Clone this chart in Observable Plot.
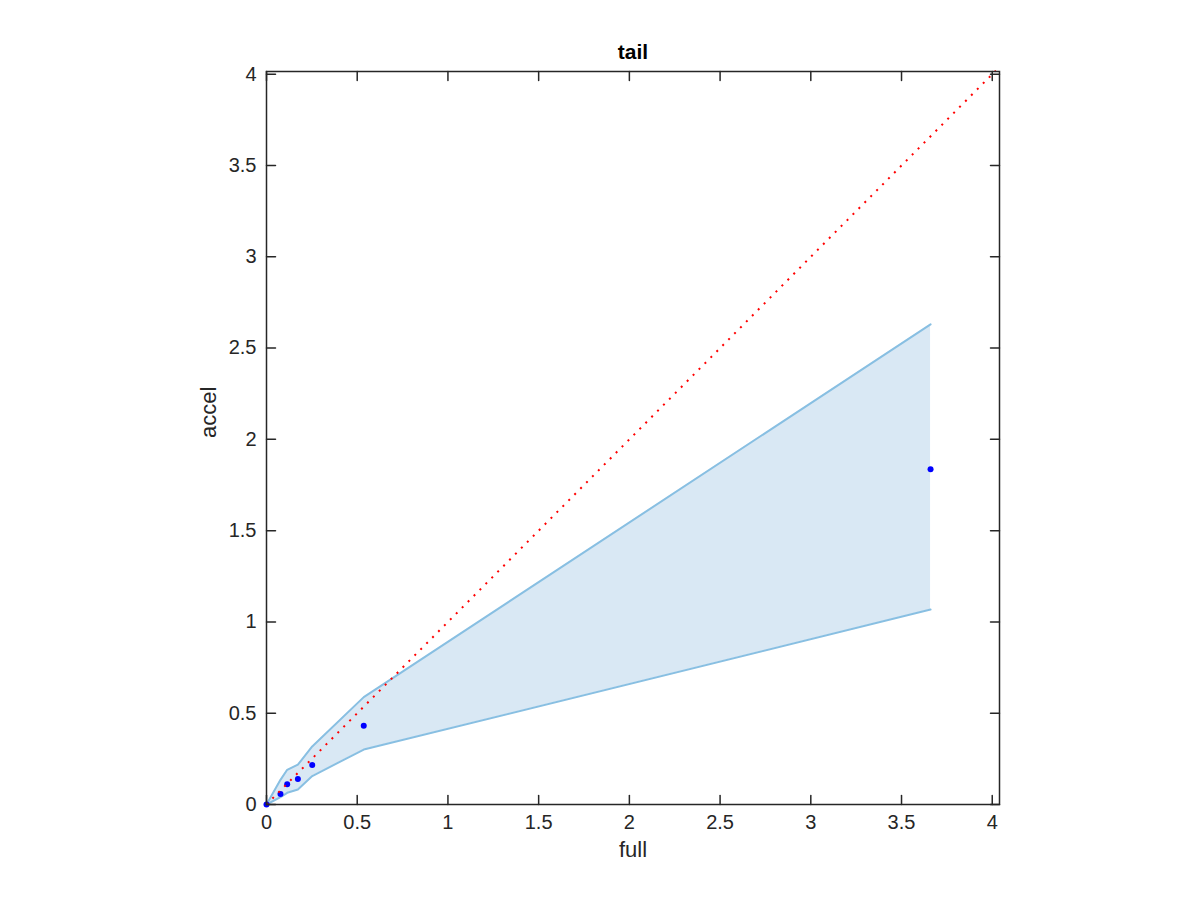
<!DOCTYPE html>
<html><head><meta charset="utf-8">
<script src="https://cdn.jsdelivr.net/npm/d3@7"></script>
<script src="https://cdn.jsdelivr.net/npm/@observablehq/plot@0.6"></script>
<style>body{margin:0;background:#fff;}</style>
</head><body><div id="chart"></div>
<script>
// ---- data ----
const fullVals  = [0, 0.077, 0.114, 0.173, 0.252, 0.536, 3.66];
const accelVals = [0, 0.058, 0.111, 0.140, 0.216, 0.431, 1.836];
const bandX     = [0, 0.077, 0.114, 0.173, 0.252, 0.536, 3.66];
const bandUpper = [0, 0.135, 0.19, 0.218, 0.318, 0.588, 2.63];
const bandLower = [0, 0.04, 0.064, 0.082, 0.156, 0.301, 1.068];
const refLine   = [0, 4.02];
const xTicks = [0, 0.5, 1, 1.5, 2, 2.5, 3, 3.5, 4];
const yTicks = [0, 0.5, 1, 1.5, 2, 2.5, 3, 3.5, 4];
const xDomain = [0, 4.04];
const yDomain = [0, 4.015];
const titleText = "tail";
const xLabel = "full";
const yLabel = "accel";

// ---- tables built from the arrays ----
const points = fullVals.map((x, i) => ({x, y: accelVals[i]}));
const band = bandX.map((x, i) => ({x, lo: bandLower[i], hi: bandUpper[i]}));
const ref = refLine.map(v => ({x: v, y: v}));

const axisColor = "#262626";
const tickShape = {draw(ctx, l) { ctx.moveTo(0, 0); ctx.lineTo(0, -l); }};
const tickOpts = {length: 9, anchor: "start", shape: tickShape, stroke: axisColor, strokeWidth: 1.5};

const chart = Plot.plot({
  width: 1200,
  height: 900,
  marginLeft: 266,
  marginRight: 201,
  marginTop: 71,
  marginBottom: 96,
  style: {fontFamily: "'Liberation Sans', Arial, Helvetica, sans-serif", fontSize: "20px", color: axisColor, background: "#fff"},
  x: {domain: xDomain, label: null},
  y: {domain: yDomain, label: null},
  marks: [
    Plot.areaY(band, {x: "x", y1: "lo", y2: "hi", fill: "#d9e8f4", curve: "linear"}),
    Plot.line(band, {x: "x", y: "hi", stroke: "#88bfe2", strokeWidth: 2}),
    Plot.line(band, {x: "x", y: "lo", stroke: "#88bfe2", strokeWidth: 2}),
    Plot.dot(points, {x: "x", y: "y", r: 3, fill: "#0000ff", stroke: "none"}),
    Plot.line(ref, {x: "x", y: "y", stroke: "#ff0000", strokeWidth: 2, strokeDasharray: "2,6.4", strokeLinecap: "butt"}),
    Plot.frame({stroke: axisColor, strokeWidth: 1.5}),
    Plot.vector(xTicks, {...tickOpts, x: d => d, y: yDomain[0], rotate: 0}),
    Plot.vector(xTicks, {...tickOpts, x: d => d, y: yDomain[1], rotate: 180}),
    Plot.vector(yTicks, {...tickOpts, y: d => d, x: xDomain[0], rotate: 90}),
    Plot.vector(yTicks, {...tickOpts, y: d => d, x: xDomain[1], rotate: -90}),
    Plot.axisX({ticks: xTicks, tickSize: 0, tickPadding: 10, tickFormat: d => String(d), fontSize: 20, fill: axisColor, label: null}),
    Plot.axisY({ticks: yTicks, tickSize: 0, tickPadding: 10, tickFormat: d => String(d), fontSize: 20, fill: axisColor, label: null}),
    Plot.text([titleText], {text: d => d, frameAnchor: "top", dy: -27, fontSize: 21, fontWeight: "bold", fill: "#000"}),
    Plot.text([xLabel], {text: d => d, frameAnchor: "bottom", dy: 52, fontSize: 22, fill: axisColor}),
    Plot.text([yLabel], {text: d => d, frameAnchor: "left", dx: -58, rotate: -90, fontSize: 22, fill: axisColor})
  ]
});
document.getElementById("chart").appendChild(chart);
</script>
</body></html>
